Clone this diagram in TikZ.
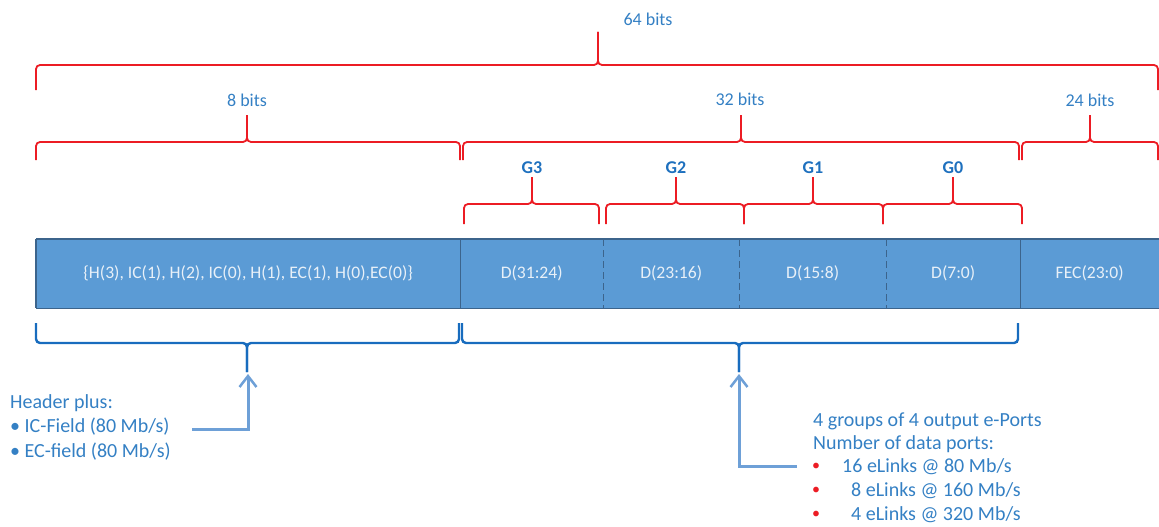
\documentclass[tikz,border=0pt]{standalone}
\usepackage{fontspec}
\setmainfont{Carlito}
\usetikzlibrary{arrows.meta}
\definecolor{bred}{RGB}{236,28,36}
\definecolor{lblue}{RGB}{52,128,196}
\definecolor{gblue}{RGB}{30,112,190}
\definecolor{boxfill}{RGB}{91,155,213}
\definecolor{boxline}{RGB}{60,100,140}
\definecolor{boxtext}{RGB}{232,240,248}
\definecolor{dblue}{RGB}{24,108,190}
\definecolor{ablue}{RGB}{110,160,215}
\newcommand{\mybrace}[7]{%
  \draw[#1] (#2,#6) -- (#2,#5) -- (#4,#5) -- (#4,#7);
  \draw[#1] (#3,#6) -- (#3,#5) -- (#4,#5) -- (#4,#7);}
\tikzset{
  redbr/.style={draw=bred, line width=1.8pt, rounded corners=4pt},
  bluebr/.style={draw=dblue, line width=2.4pt, rounded corners=4pt},
  bitlabel/.style={text=lblue, font=\fontsize{18}{21}\selectfont, inner sep=0pt},
  glabel/.style={text=gblue, font=\bfseries\fontsize{18}{21}\selectfont, inner sep=0pt},
  cell/.style={fill=boxfill, draw=none, inner sep=0pt, anchor=north west, minimum height=69pt,
     text=boxtext, font=\fontsize{17.6}{20}\selectfont},
  note/.style={text=lblue, font=\fontsize{20}{24}\selectfont, inner sep=0pt, anchor=west},
  arrowline/.style={draw=ablue, line width=3pt, -{Straight Barb[length=11pt,width=17pt,line width=2.5pt]}},
}
\begin{document}
\begin{tikzpicture}[x=1pt,y=-1pt]
\useasboundingbox (0,0) rectangle (1159,527);
% top brackets
\mybrace{redbr}{36}{1158}{598}{65}{90}{32}
\node[bitlabel] (l64) at (648,19) {64 bits};
\mybrace{redbr}{36}{460}{247}{142}{160}{115}
\node[bitlabel] (l8) at (247,100) {8 bits};
\mybrace{redbr}{463}{1019}{741}{142}{160}{115}
\node[bitlabel] (l32) at (740,99) {32 bits};
\mybrace{redbr}{1022}{1158}{1090}{142}{160}{115}
\node[bitlabel] (l24) at (1090,100) {24 bits};
% group brackets
\mybrace{redbr}{464}{599}{532}{204}{224}{177}
\node[glabel] (g3) at (532,168) {G3};
\mybrace{redbr}{606}{744}{676}{204}{224}{177}
\node[glabel] (g2) at (676,168) {G2};
\mybrace{redbr}{744}{883}{813}{204}{224}{177}
\node[glabel] (g1) at (813,168) {G1};
\mybrace{redbr}{883}{1022}{953}{204}{224}{177}
\node[glabel] (g0) at (953,168) {G0};
% frame cells
\node[cell, minimum width=424pt] (hdr) at (36,239) {\{H(3), IC(1), H(2), IC(0), H(1), EC(1), H(0),EC(0)\}};
\node[cell, minimum width=143pt] (d3) at (460,239) {D(31:24)};
\node[cell, minimum width=136pt] (d2) at (603,239) {D(23:16)};
\node[cell, minimum width=147pt] (d1) at (739,239) {D(15:8)};
\node[cell, minimum width=134pt] (d0) at (886,239) {D(7:0)};
\node[cell, minimum width=139pt] (fec) at (1020,239) {FEC(23:0)};
\draw[boxline, line width=1.2pt] (hdr.north west) -- (fec.north east);
\draw[boxline, line width=1.2pt] (hdr.south west) -- (fec.south east);
\draw[boxline, line width=1.2pt] (hdr.north west) -- (hdr.south west);
\draw[boxline, line width=1.2pt] (hdr.north east) -- (hdr.south east);
\draw[boxline, line width=1.2pt] (d0.north east) -- (d0.south east);
\draw[boxline, line width=1.4pt, dash pattern=on 7pt off 4pt] (d3.north east) -- (d3.south east);
\draw[boxline, line width=1.4pt, dash pattern=on 7pt off 4pt] (d2.north east) -- (d2.south east);
\draw[boxline, line width=1.4pt, dash pattern=on 7pt off 4pt] (d1.north east) -- (d1.south east);
% bottom brackets
\mybrace{bluebr}{36}{459}{247}{343}{323}{372}
\mybrace{bluebr}{462}{1018}{739}{343}{323}{372}
% arrows
\coordinate (ltip) at (248,374);
\coordinate (lstart) at (192,429);
\draw[arrowline] (lstart) -| (ltip);
\coordinate (rtip) at (739,374);
\coordinate (rstart) at (797,466);
\draw[arrowline] (rstart) -| (rtip);
% notes
\node[note] (n1) at (10,403) {Header plus:};
\node[note] (n2) at (10,427) {• IC-Field (80 Mb/s)};
\node[note] (n3) at (10,452) {• EC-field (80 Mb/s)};
\node[note] (r1) at (813,421) {4 groups of 4 output e-Ports};
\node[note] (r2) at (813,444) {Number of data ports:};
\node[note, text=bred, font=\fontsize{16}{20}\selectfont] (b1) at (812,467) {•};
\node[note, text=bred, font=\fontsize{16}{20}\selectfont] (b2) at (812,491) {•};
\node[note, text=bred, font=\fontsize{16}{20}\selectfont] (b3) at (812,515) {•};
\node[note] (r3) at (842,467) {16 eLinks @ 80 Mb/s};
\node[note] (r4) at (851,491) {8 eLinks @ 160 Mb/s};
\node[note] (r5) at (851,515) {4 eLinks @ 320 Mb/s};
\end{tikzpicture}
\end{document}
